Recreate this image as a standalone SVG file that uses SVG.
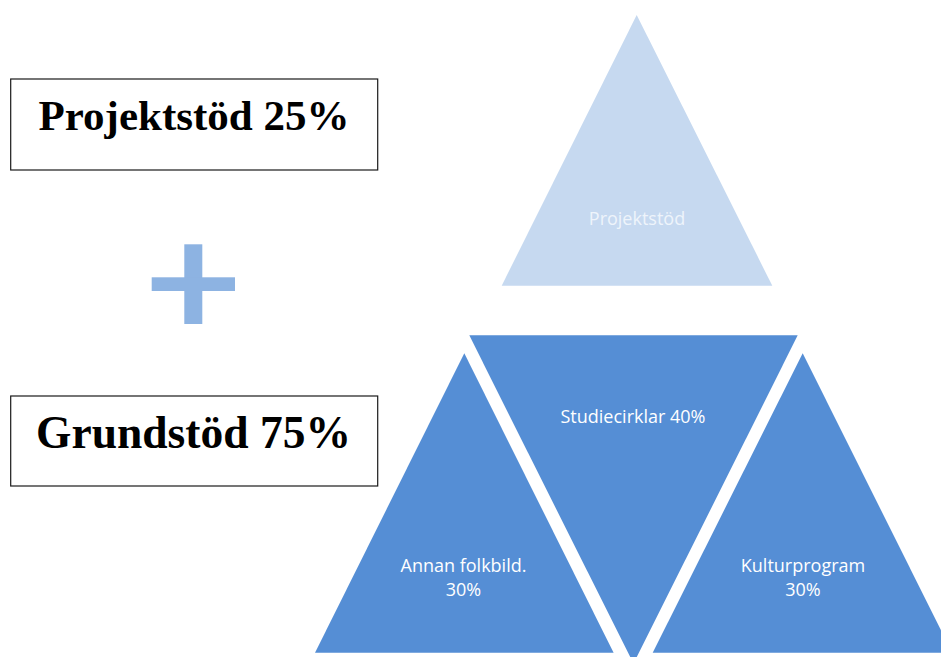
<svg xmlns="http://www.w3.org/2000/svg" width="941" height="657" viewBox="0 0 941 657">
<style>
.box{fill:#fff;stroke:#1a1a1a;stroke-width:1.2}
.big{font-family:"Liberation Serif","Times New Roman",serif;font-weight:bold;font-size:43px;fill:#000;text-anchor:middle}
.lbl{font-family:"Open Sans","Liberation Sans",sans-serif;font-size:18px;fill:#fff;text-anchor:middle}
.tri{fill:#558ED5}
</style>
<rect width="941" height="657" fill="#fff"/>
<g id="box-projektstod">
<rect class="box" x="10.7" y="79" width="367" height="91"/>
<text class="big" x="194" y="129.5">Projektstöd 25%</text>
</g>
<g id="plus">
<rect x="184.3" y="244.3" width="18" height="79.7" fill="#8DB3E2"/>
<rect x="151.7" y="277.3" width="83.3" height="13.7" fill="#8DB3E2"/>
</g>
<g id="box-grundstod">
<rect class="box" x="10.7" y="396" width="367" height="90"/>
<text class="big" x="193.5" y="448" style="font-size:45.5px">Grundstöd 75%</text>
</g>
<g id="tri-projektstod">
<polygon points="636.7,15 772.3,285.7 501.7,285.7" fill="#C6D9F0"/>
<text class="lbl" x="637" y="225" style="fill:#EEF4FB">Projektstöd</text>
</g>
<g id="tri-studiecirklar">
<polygon class="tri" points="469.3,335.3 797.7,335.3 633.5,663.5"/>
<text class="lbl" x="633" y="423.3">Studiecirklar 40%</text>
</g>
<g id="tri-annan">
<polygon class="tri" points="464.3,353.3 613.6,652.7 315,652.7"/>
<text class="lbl" x="463.5" y="571.7">Annan folkbild.</text>
<text class="lbl" x="463.5" y="595.7">30%</text>
</g>
<g id="tri-kultur">
<polygon class="tri" points="802.7,353.3 952.2,652.7 652.7,652.7"/>
<text class="lbl" x="803" y="571.7">Kulturprogram</text>
<text class="lbl" x="803" y="595.7">30%</text>
</g>
<g id="connectors"/>
</svg>
